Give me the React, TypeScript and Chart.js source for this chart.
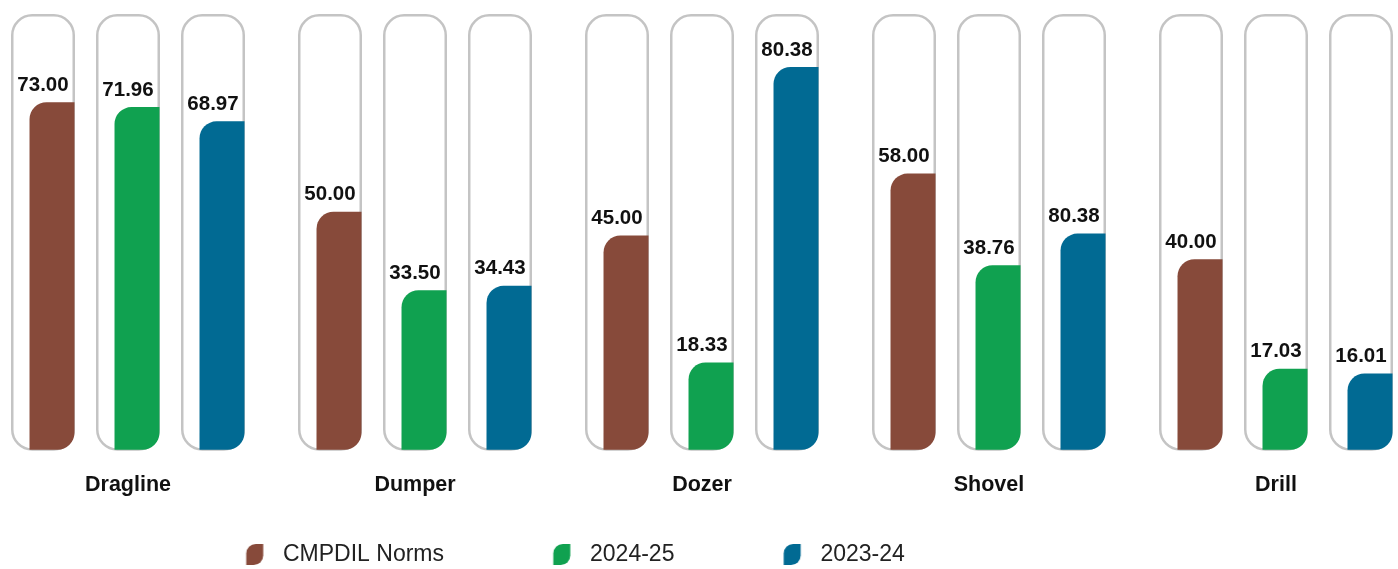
import React, { useEffect, useRef } from 'react';
import { Chart, registerables } from 'chart.js';

Chart.register(...registerables);

const categories = ['Dragline', 'Dumper', 'Dozer', 'Shovel', 'Drill'];
const seriesNames = ['CMPDIL Norms', '2024-25', '2023-24'];
const normsValues = [73.0, 50.0, 45.0, 58.0, 40.0];
const fy2425Values = [71.96, 33.5, 18.33, 38.76, 17.03];
const fy2324Values = [68.97, 34.43, 80.38, 45.4, 16.01];
const normsLabels = ['73.00', '50.00', '45.00', '58.00', '40.00'];
const fy2425Labels = ['71.96', '33.50', '18.33', '38.76', '17.03'];
const fy2324Labels = ['68.97', '34.43', '80.38', '80.38', '16.01'];
const seriesColors = ['#874A3A', '#10A150', '#016A93'];
const yMax = 91.3;

const CAP_SHIFT = 9;
const CAP_HALF = 30.75;
const CAP_R = 20;
const FONT = '"Liberation Sans", Arial, sans-serif';
const LEAF_BOX = 134.5;

function roundPath(ctx: CanvasRenderingContext2D, x: number, y: number, w: number, h: number, r: [number, number, number, number]) {
  const [tl, tr, br, bl] = r;
  ctx.beginPath();
  ctx.moveTo(x + tl, y);
  ctx.lineTo(x + w - tr, y);
  if (tr) ctx.arcTo(x + w, y, x + w, y + tr, tr); else ctx.lineTo(x + w, y);
  ctx.lineTo(x + w, y + h - br);
  if (br) ctx.arcTo(x + w, y + h, x + w - br, y + h, br); else ctx.lineTo(x + w, y + h);
  ctx.lineTo(x + bl, y + h);
  if (bl) ctx.arcTo(x, y + h, x, y + h - bl, bl); else ctx.lineTo(x, y + h);
  ctx.lineTo(x, y + tl);
  if (tl) ctx.arcTo(x, y, x + tl, y, tl); else ctx.lineTo(x, y);
  ctx.closePath();
}

function makeLeaf(color: string): HTMLCanvasElement {
  const c = document.createElement('canvas');
  c.width = Math.round(LEAF_BOX);
  c.height = 21;
  const ctx = c.getContext('2d')!;
  ctx.fillStyle = color;
  roundPath(ctx, c.width - 25.5, 0, 17, 21, [9.5, 0, 9.5, 0]);
  ctx.fill();
  return c;
}

const capsulePlugin = {
  id: 'capsules',
  beforeDatasetsDraw(chart: any) {
    const { ctx, chartArea } = chart;
    ctx.save();
    ctx.strokeStyle = '#C4C4C4';
    ctx.lineWidth = 2.5;
    ctx.fillStyle = '#ffffff';
    chart.data.datasets.forEach((_ds: any, di: number) => {
      const meta = chart.getDatasetMeta(di);
      meta.data.forEach((el: any) => {
        const cx = el.x - CAP_SHIFT;
        const t = chartArea.top + 0.25;
        const b = chartArea.bottom - 0.25;
        roundPath(ctx, cx - CAP_HALF, t, CAP_HALF * 2, b - t, [CAP_R, CAP_R, CAP_R, CAP_R]);
        ctx.fill();
        ctx.stroke();
      });
    });
    ctx.restore();
  },
  afterDatasetsDraw(chart: any) {
    const { ctx } = chart;
    ctx.save();
    ctx.fillStyle = '#111111';
    ctx.font = `bold 20.5px ${FONT}`;
    ctx.textAlign = 'center';
    ctx.textBaseline = 'alphabetic';
    chart.data.datasets.forEach((ds: any, di: number) => {
      const meta = chart.getDatasetMeta(di);
      meta.data.forEach((el: any, i: number) => {
        ctx.fillText(ds.valueLabels[i], el.x - CAP_SHIFT, el.y - 11.5);
      });
    });
    ctx.restore();
  },
};

export default function App() {
  const ref = useRef<HTMLCanvasElement | null>(null);

  useEffect(() => {
    if (!ref.current) return;
    const leafIcons = seriesColors.map(makeLeaf);
    const seriesValues = [normsValues, fy2425Values, fy2324Values];
    const seriesLabels = [normsLabels, fy2425Labels, fy2324Labels];
    const chart = new Chart(ref.current, {
      type: 'bar',
      data: {
        labels: categories,
        datasets: seriesNames.map((name, i) => ({
          label: name,
          data: seriesValues[i],
          valueLabels: seriesLabels[i],
          backgroundColor: seriesColors[i],
          borderWidth: 0,
          borderSkipped: false,
          borderRadius: { topLeft: 17, topRight: 0, bottomRight: 17, bottomLeft: 0 },
          categoryPercentage: 0.8885,
          barPercentage: 0.529,
          clip: false,
        })) as any,
      },
      options: {
        responsive: false,
        animation: false,
        devicePixelRatio: 1,
        layout: { padding: { left: 137, right: 113, top: 15, bottom: -7 } },
        scales: {
          x: {
            type: 'category',
            offset: false,
            grid: { display: false, drawTicks: false },
            border: { display: false },
            ticks: {
              labelOffset: -CAP_SHIFT,
              padding: 22.5,
              color: '#111111',
              font: { family: FONT, size: 21.5, weight: 'bold' },
              autoSkip: false,
              maxRotation: 0,
            },
          },
          y: {
            display: false,
            min: 0,
            max: yMax,
          },
        },
        plugins: {
          tooltip: { enabled: false },
          legend: {
            position: 'bottom',
            align: 'start',
            title: { display: true, text: '', padding: { top: 8, bottom: 0 }, font: { size: 12 } },
            labels: {
              usePointStyle: true,
              pointStyleWidth: LEAF_BOX,
              padding: 0,
              color: '#222222',
              font: { family: FONT, size: 23 },
              generateLabels: (c: any) =>
                c.data.datasets.map((ds: any, i: number) => ({
                  text: ds.label,
                  fillStyle: ds.backgroundColor,
                  strokeStyle: ds.backgroundColor,
                  lineWidth: 0,
                  pointStyle: leafIcons[i],
                  hidden: !c.isDatasetVisible(i),
                  datasetIndex: i,
                  fontColor: '#222222',
                })),
            },
          },
        },
      } as any,
      plugins: [capsulePlugin],
    });
    return () => chart.destroy();
  }, []);

  return (
    <div style={{ position: 'absolute', left: 0, top: 0, width: 1398, height: 569, background: '#ffffff' }}>
      <canvas ref={ref} width={1398} height={569} style={{ display: 'block' }} />
    </div>
  );
}
